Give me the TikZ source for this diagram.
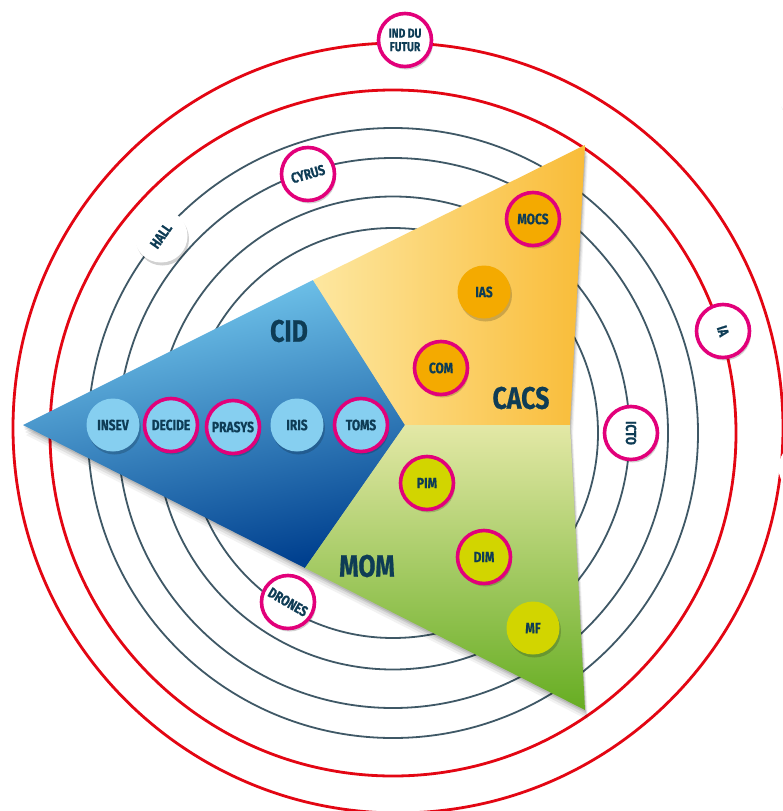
\documentclass[tikz,border=0pt]{standalone}
\usepackage{fontspec}
\setmainfont{Fira Sans}
\newfontfamily\condf[FakeStretch=0.8,FakeBold=0.6]{Fira Sans}
\usetikzlibrary{shadows}
\definecolor{ringc}{HTML}{3F5866}
\definecolor{redc}{HTML}{E30613}
\definecolor{pinkc}{HTML}{E2007A}
\definecolor{txtc}{HTML}{0E3C55}
\definecolor{cidL}{HTML}{78CDF1}
\definecolor{cidM}{HTML}{3A8DCD}
\definecolor{cidD}{HTML}{00408F}
\definecolor{cacsL}{HTML}{FDE7A0}
\definecolor{cacsD}{HTML}{F9BC38}
\definecolor{momL}{HTML}{E3E8A6}
\definecolor{momD}{HTML}{66AD22}
\definecolor{bluen}{HTML}{86CFF0}
\definecolor{orangen}{HTML}{F4AA00}
\definecolor{greenn}{HTML}{D2D500}
\tikzset{
  ringline/.style={draw=ringc, line width=1.8pt},
  redline/.style={draw=redc, line width=2.8pt},
  bub/.style={circle, minimum size=53pt, inner sep=0pt, text=txtc,
    font=\condf\bfseries\fontsize{15}{15.5}\selectfont, align=center,
    drop shadow={shadow xshift=1.5pt, shadow yshift=-3pt, opacity=0.18, fill=black}},
  pinkring/.style={draw=pinkc, line width=3.6pt},
  rlab/.style={inner sep=0pt, text=txtc, font=\condf\bfseries\fontsize{14.5}{15}\selectfont},
  bigl/.style={text=txtc, font=\condf\bfseries\fontsize{31}{32}\selectfont},
}
\begin{document}
\begin{tikzpicture}[x=1pt,y=1pt]
\useasboundingbox (0,0) rectangle (782,-811);
\fill[white] (0,0) rectangle (782,-811);
% rings
\coordinate (c) at (393,-433);
\draw[redline] (398,-428) circle (385);
\draw[redline] (c) circle (343);
\foreach \r in {205,236.5,275,305} \draw[ringline] (c) circle (\r);
% partially visible nodes at right edge
\node[bub, fill=white] (hid1) at (805,-468) {};
\node[bub, fill=white] (hid2) at (805,-95) {};
% shadow of main shape
\foreach \o/\a in {10/0.05,7/0.07,4/0.09,2/0.1}
  \fill[black, opacity=\a, shift={(0.3*\o,-\o)}] (23,-425) -- (585,-145) -- (570,-425) -- (585,-710) -- cycle;
% main shape
\coordinate (tip) at (23,-425);
\coordinate (ctr) at (405,-425);
\coordinate (ctop) at (313,-280);
\coordinate (cbot) at (305,-568);
\coordinate (tr) at (585,-145);
\coordinate (mr) at (570,-425);
\coordinate (br) at (585,-710);
\shade[top color=cidL, middle color=cidM, bottom color=cidD, shading angle=12] (tip) -- (ctop) -- (ctr) -- (cbot) -- cycle;
\shade[left color=cacsL, right color=cacsD] (ctop) -- (tr) -- (mr) -- (ctr) -- cycle;
\shade[top color=momL, bottom color=momD] (ctr) -- (mr) -- (br) -- (cbot) -- cycle;
% sector labels
\node[bigl] (lcid) at (289,-331) {CID};
\node[bigl] (lcacs) at (521,-398) {CACS};
\node[bigl] (lmom) at (367,-566) {MOM};
% CID nodes
\node[bub, fill=bluen] (insev) at (113,-425) {INSEV};
\node[bub, fill=bluen, pinkring] (decide) at (171,-425) {DECIDE};
\node[bub, fill=bluen, pinkring] (prasys) at (233,-427) {PRASYS};
\node[bub, fill=bluen] (iris) at (297,-425) {IRIS};
\node[bub, fill=bluen, pinkring] (toms) at (361,-425) {TOMS};
% CACS nodes
\node[bub, fill=orangen, pinkring] (mocs) at (533,-219) {MOCS};
\node[bub, fill=orangen] (ias) at (484,-292) {IAS};
\node[bub, fill=orangen, pinkring] (com) at (441,-368) {COM};
% MOM nodes
\node[bub, fill=greenn, pinkring] (pim) at (427,-483) {PIM};
\node[bub, fill=greenn, pinkring] (dim) at (484,-557) {DIM};
\node[bub, fill=greenn] (mf) at (533,-628) {MF};
% ring nodes
\node[bub, fill=white, pinkring, font=\condf\bfseries\fontsize{13}{13.5}\selectfont] (futur) at (405,-40) {IND DU\\FUTUR};
\node[bub, fill=white, pinkring] (cyrus) at (308,-174) {};
\node[rlab, rotate=16] (tcyrus) at (cyrus) {CYRUS};
\node[bub, fill=white] (hall) at (161,-236) {};
\node[rlab, rotate=55] (thall) at (hall) {HALL};
\node[bub, fill=white, pinkring] (ia) at (723,-331) {};
\node[rlab, rotate=-72] (tia) at (ia) {IA};
\node[bub, fill=white, pinkring] (icto) at (631,-433) {};
\node[rlab, rotate=-90] (ticto) at (icto) {ICTO};
\node[bub, fill=white, pinkring] (drones) at (288,-602) {};
\node[rlab, rotate=-30] (tdrones) at (drones) {DRONES};
\end{tikzpicture}
\end{document}
